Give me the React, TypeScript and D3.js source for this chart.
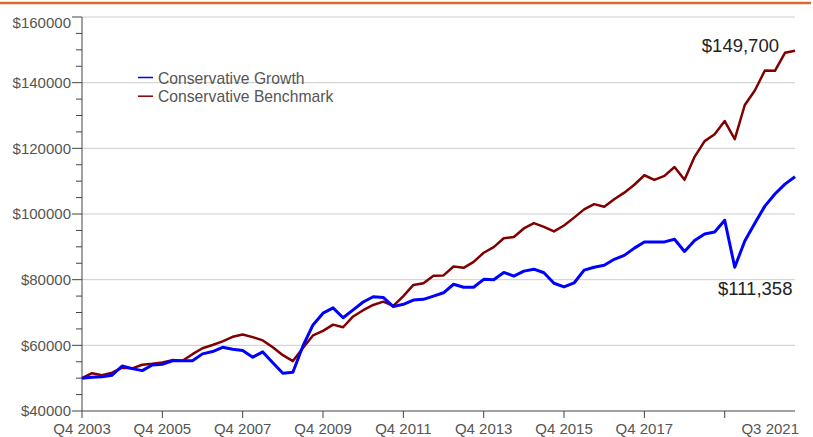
import React from "react";
import * as d3 from "d3";

const quarters: string[] = (() => {
  const out: string[] = ["Q4 2003"];
  for (let y = 2004; y <= 2021; y++) {
    for (let q = 1; q <= 4; q++) {
      if (y === 2021 && q > 3) break;
      out.push(`Q${q} ${y}`);
    }
  }
  return out;
})();

const growth: number[] = [
  50000, 50300, 50400, 50900, 53700, 52900, 52300, 54000, 54200, 55300,
  55300, 55300, 57400, 58100, 59400, 58800, 58400, 56400, 58000, 54700,
  51500, 51800, 59800, 66200, 69800, 71400, 68400, 70800, 73200, 74800,
  74600, 71800, 72500, 73800, 74000, 75000, 76000, 78600, 77700, 77700,
  80100, 80000, 82200, 81100, 82600, 83200, 82100, 78900, 77800, 79000,
  82900, 83800, 84400, 86200, 87400, 89600, 91500, 91500, 91500, 92300,
  88600, 91900, 93900, 94500, 98100, 83800, 91800, 97200, 102400, 106100,
  109100, 111358,
];

const benchmark: number[] = [
  50000, 51500, 50900, 51700, 53200, 53000, 54100, 54400, 54800, 55500,
  55300, 57300, 59100, 60100, 61200, 62600, 63300, 62500, 61500, 59400,
  57000, 55200, 59200, 63000, 64400, 66300, 65500, 68800, 70700, 72300,
  73300, 72000, 75000, 78400, 78900, 81200, 81300, 84000, 83600, 85400,
  88200, 89900, 92600, 93000, 95600, 97200, 96100, 94700, 96500, 98900,
  101400, 103000, 102200, 104500, 106500, 108900, 111800, 110400, 111600, 114300,
  110400, 117400, 122200, 124300, 128300, 122800, 133200, 137600, 143700, 143600,
  149100, 149700,
];

const seriesNames = ["Conservative Growth", "Conservative Benchmark"];
const xTickQuarters = ["Q4 2003", "Q4 2005", "Q4 2007", "Q4 2009", "Q4 2011", "Q4 2013", "Q4 2015", "Q4 2017", "Q4 2019"];
const xTickLabels = ["Q4 2003", "Q4 2005", "Q4 2007", "Q4 2009", "Q4 2011", "Q4 2013", "Q4 2015", "Q4 2017", ""];
const endLabel = "Q3 2021";
const yMajorTicks = [40000, 60000, 80000, 100000, 120000, 140000, 160000];
const growthEndLabel = "$111,358";
const benchEndLabel = "$149,700";

const W = 813;
const H = 437;
const FONT = "'Liberation Sans', Arial, Helvetica, sans-serif";

export default function App() {
  const x = d3.scalePoint<string>().domain(quarters).range([82, 795]);
  const y = d3.scaleLinear().domain([40000, 160000]).range([411, 17]);
  const line = d3
    .line<number>()
    .x((_, i) => x(quarters[i]) as number)
    .y((d) => y(d));
  const minorTicks = d3.range(40000, 160001, 5000);
  const colors = ["#0000ff", "#800000"];

  return (
    <svg
      width={W}
      height={H}
      style={{ position: "absolute", left: 0, top: 0, background: "#fff" }}
      fontFamily={FONT}
    >
      <line x1={0} x2={811} y1={3} y2={3} stroke="#dd6a2c" strokeWidth={2.5} />
      {/* gridlines */}
      {yMajorTicks.filter((t) => t > 40000).map((t) => (
        <line key={"g" + t} x1={82} x2={795} y1={y(t)} y2={y(t)} stroke="#cccccc" strokeWidth={1} />
      ))}
      {/* y axis */}
      <line x1={82} x2={82} y1={y(160000)} y2={y(40000)} stroke="#444" strokeWidth={1} />
      {minorTicks.map((t) => {
        const major = t % 20000 === 0;
        return (
          <line key={"t" + t} x1={major ? 72 : 76} x2={82} y1={y(t)} y2={y(t)} stroke="#444" strokeWidth={1} />
        );
      })}
      {yMajorTicks.map((t) => (
        <text
          key={"l" + t}
          x={71}
          y={t === 160000 ? y(t) + 6 : y(t)}
          dy="0.35em"
          textAnchor="end"
          fontSize={15}
          fill="#555"
        >
          {"$" + t}
        </text>
      ))}
      {/* x axis */}
      <line x1={82} x2={795} y1={411} y2={411} stroke="#444" strokeWidth={1} />
      {xTickQuarters.map((q, i) => (
        <g key={q}>
          <line x1={x(q)} x2={x(q)} y1={411} y2={418} stroke="#444" strokeWidth={1} />
          {xTickLabels[i] && (
            <text x={x(q)} y={434} textAnchor="middle" fontSize={15} fill="#555">
              {xTickLabels[i]}
            </text>
          )}
        </g>
      ))}
      <text x={799} y={434} textAnchor="end" fontSize={15} fill="#555">
        {endLabel}
      </text>
      {/* lines */}
      <path d={line(benchmark) || ""} fill="none" stroke={colors[1]} strokeWidth={2.5} strokeLinejoin="round" />
      <path d={line(growth) || ""} fill="none" stroke={colors[0]} strokeWidth={3} strokeLinejoin="round" />
      {/* end labels */}
      <text x={779} y={52} textAnchor="end" fontSize={18.5} fill="#222">
        {benchEndLabel}
      </text>
      <text x={718} y={295} textAnchor="start" fontSize={18.5} fill="#222">
        {growthEndLabel}
      </text>
      {/* legend */}
      {seriesNames.map((name, i) => (
        <g key={name}>
          <line x1={138} x2={153} y1={77.5 + i * 18.7} y2={77.5 + i * 18.7} stroke={colors[i]} strokeWidth={1.5} />
          <text x={158} y={83.5 + i * 18.7} fontSize={15.7} fill="#555">
            {name}
          </text>
        </g>
      ))}
    </svg>
  );
}
